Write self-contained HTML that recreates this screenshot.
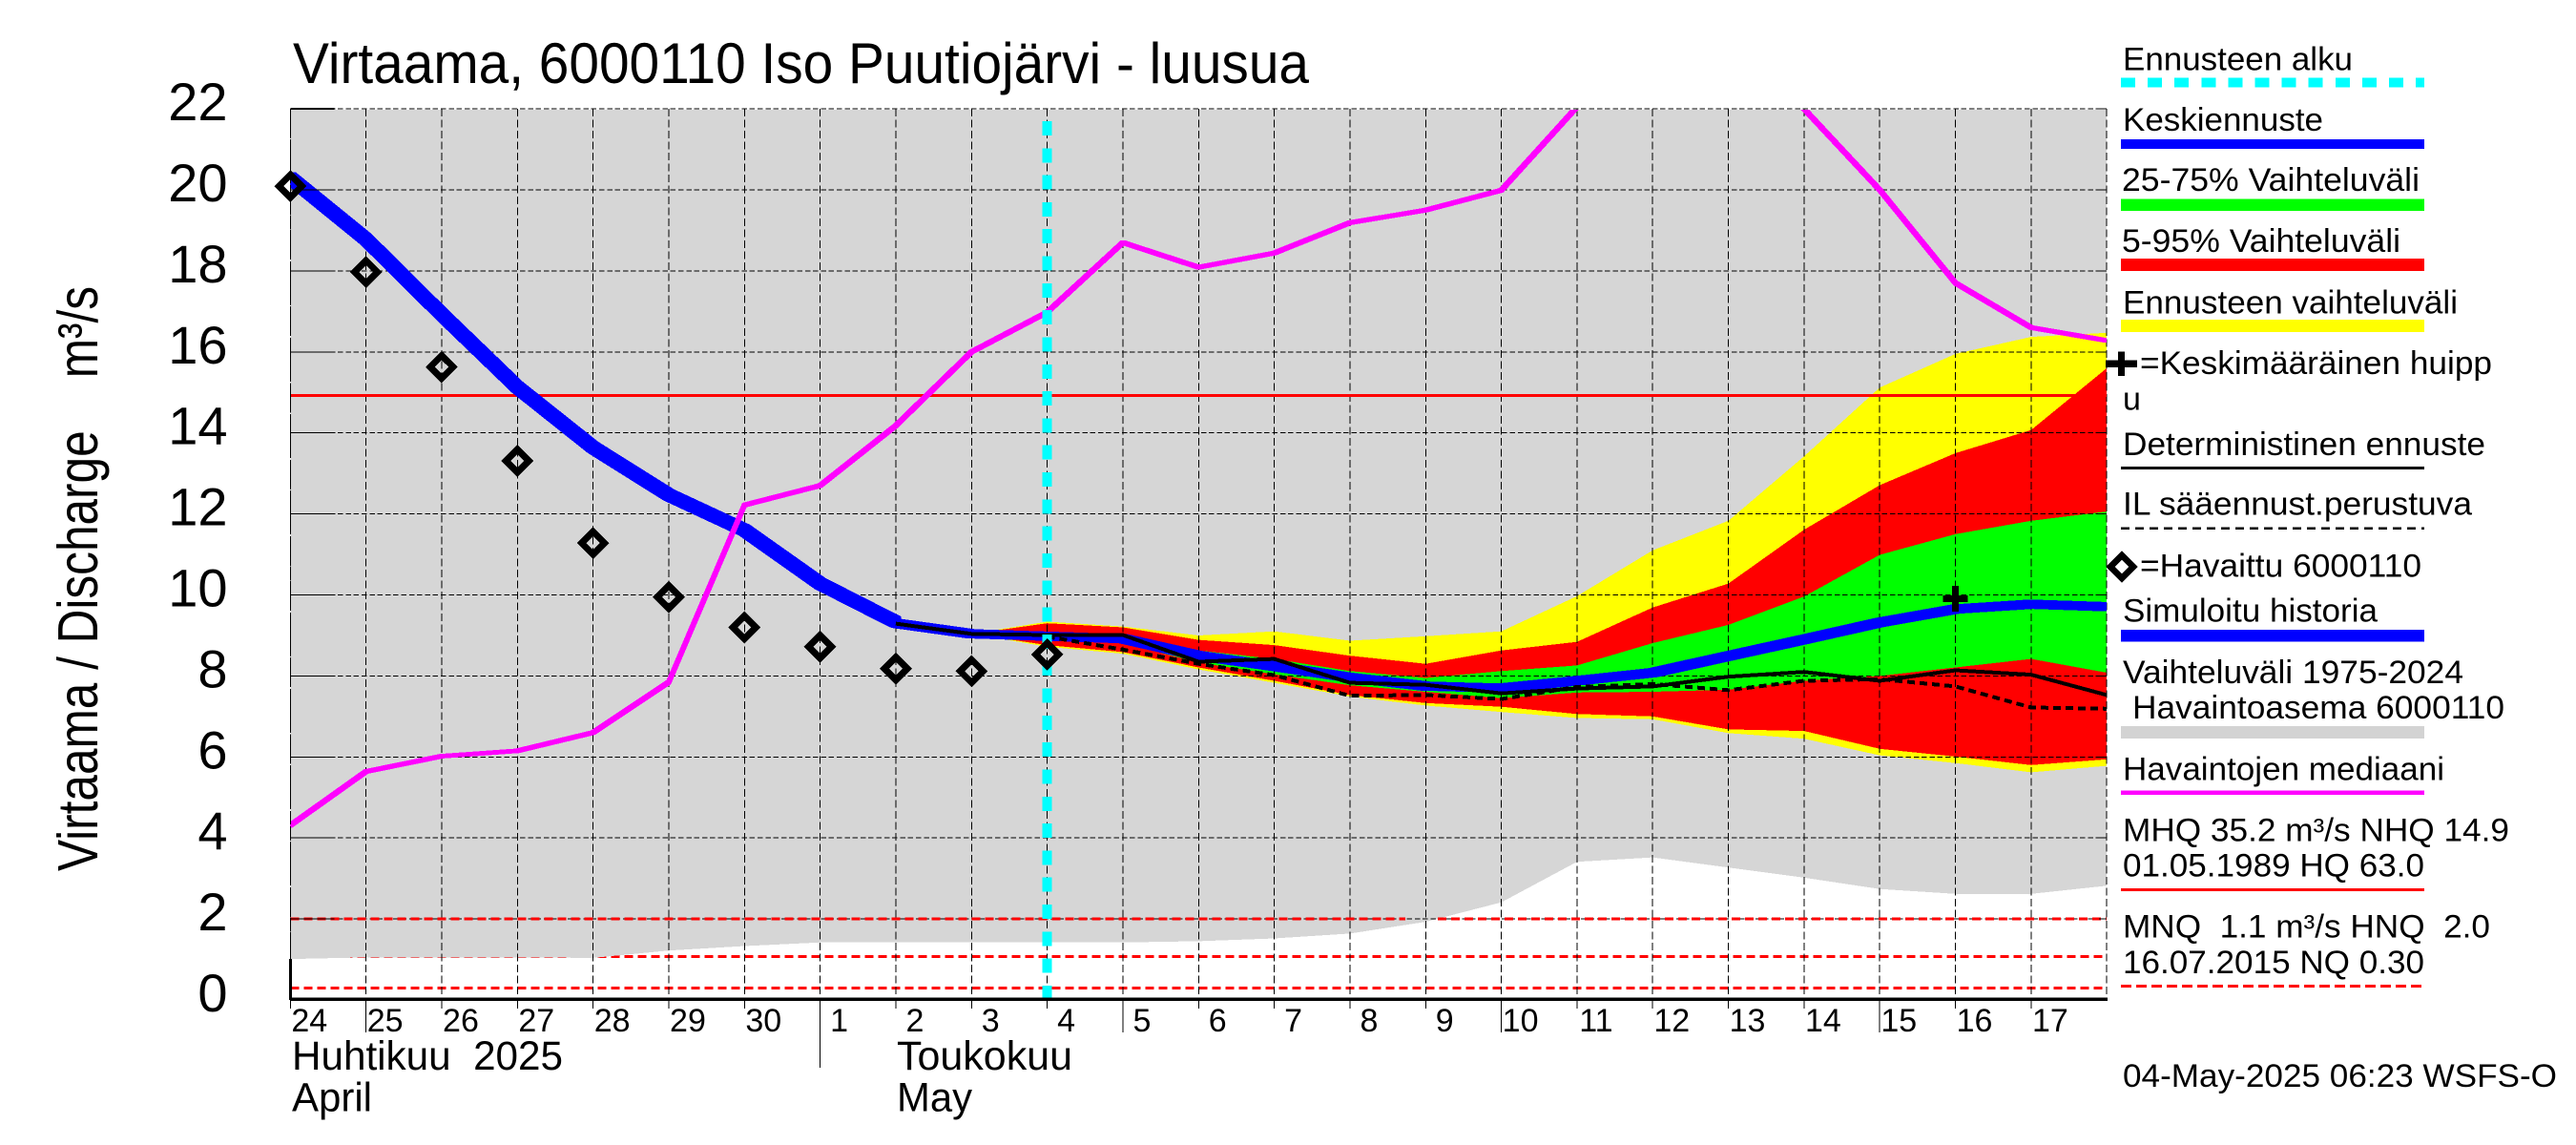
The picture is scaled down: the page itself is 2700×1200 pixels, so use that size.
<!DOCTYPE html>
<html lang="fi">
<head>
<meta charset="utf-8">
<title>Virtaama, 6000110 Iso Puutiojärvi - luusua</title>
<style>
html,body{margin:0;padding:0;background:#fff;}
svg{display:block;font-family:"Liberation Sans",Arial,sans-serif;fill:#000;}
text{white-space:pre;}
</style>
</head>
<body>
<svg id="chart" xmlns="http://www.w3.org/2000/svg" width="2700" height="1200" viewBox="0 0 2700 1200" shape-rendering="crispEdges">
<defs>
<clipPath id="plot-clip"><rect x="304" y="115" width="1904" height="933"/></clipPath>
</defs>
<rect x="0" y="0" width="2700" height="1200" fill="#ffffff"/>
<text x="307" y="87" font-size="60" textLength="1065" lengthAdjust="spacingAndGlyphs">Virtaama, 6000110 Iso Puutiojärvi - luusua</text>
<text transform="translate(102 913) rotate(-90)" x="0" y="0" font-size="59" textLength="613" lengthAdjust="spacingAndGlyphs">Virtaama / Discharge    m³/s</text>

<g id="levels-under" clip-path="url(#plot-clip)"></g>
<g id="history-band" clip-path="url(#plot-clip)"></g>
<g id="forecast-bands" clip-path="url(#plot-clip)"></g>
<g id="grid"></g>
<g id="levels-over" clip-path="url(#plot-clip)"></g>
<g id="series" clip-path="url(#plot-clip)"></g>
<g id="axes"></g>
<g id="markers"></g>

<text x="306" y="1121" font-size="43" textLength="284" lengthAdjust="spacingAndGlyphs">Huhtikuu  2025</text>
<text x="306" y="1164.5" font-size="43" textLength="84" lengthAdjust="spacingAndGlyphs">April</text>
<text x="940" y="1121" font-size="43" textLength="184" lengthAdjust="spacingAndGlyphs">Toukokuu</text>
<text x="940" y="1164.5" font-size="43" textLength="79" lengthAdjust="spacingAndGlyphs">May</text>

<g font-size="34">
<text x="2225" y="73.5" textLength="241" lengthAdjust="spacingAndGlyphs">Ennusteen alku</text>
<line x1="2223" x2="2541" y1="86.7" y2="86.7" stroke="#00ffff" stroke-width="10" stroke-dasharray="15 13.1"/>
<text x="2225" y="137" textLength="210" lengthAdjust="spacingAndGlyphs">Keskiennuste</text>
<rect x="2223" y="146" width="318" height="10" fill="#0000ff"/>
<text x="2224" y="200" textLength="312" lengthAdjust="spacingAndGlyphs">25-75% Vaihteluväli</text>
<rect x="2223" y="208.6" width="318" height="12.6" fill="#00ff00"/>
<text x="2224" y="264" textLength="292" lengthAdjust="spacingAndGlyphs">5-95% Vaihteluväli</text>
<rect x="2223" y="271" width="318" height="13" fill="#ff0000"/>
<text x="2225" y="328.4" textLength="351" lengthAdjust="spacingAndGlyphs">Ennusteen vaihteluväli</text>
<rect x="2223" y="335" width="318" height="13" fill="#ffff00"/>
<path d="M2219.8 368.3h7v9h13v7.5h-13v9h-7v-9h-13v-7.5h13z" fill="#000"/>
<text x="2243" y="392" textLength="369" lengthAdjust="spacingAndGlyphs">=Keskimääräinen huipp</text>
<text x="2225" y="429.4">u</text>
<text x="2225" y="477.2" textLength="380" lengthAdjust="spacingAndGlyphs">Deterministinen ennuste</text>
<rect x="2223" y="489" width="318" height="3" fill="#000"/>
<text x="2225" y="539.6" textLength="366" lengthAdjust="spacingAndGlyphs">IL sääennust.perustuva</text>
<line x1="2223" x2="2541" y1="553.8" y2="553.8" stroke="#000" stroke-width="2.5" stroke-dasharray="9 6"/>
<path d="M2224 582L2236 594L2224 606L2212 594Z" fill="none" stroke="#000" stroke-width="7" stroke-linejoin="miter"/>
<text x="2243" y="604.5" textLength="295" lengthAdjust="spacingAndGlyphs">=Havaittu 6000110</text>
<text x="2225" y="651.7" textLength="267" lengthAdjust="spacingAndGlyphs">Simuloitu historia</text>
<rect x="2223" y="660" width="318" height="12.7" fill="#0000ff"/>
<text x="2225" y="716" textLength="357" lengthAdjust="spacingAndGlyphs">Vaihteluväli 1975-2024</text>
<text x="2235" y="753" textLength="390" lengthAdjust="spacingAndGlyphs">Havaintoasema 6000110</text>
<rect x="2223" y="761" width="318" height="13" fill="#d3d3d3"/>
<text x="2225" y="817.4" textLength="337" lengthAdjust="spacingAndGlyphs">Havaintojen mediaani</text>
<rect x="2223" y="828.5" width="318" height="4.3" fill="#ff00ff"/>
<text x="2225" y="881.3" textLength="405" lengthAdjust="spacingAndGlyphs">MHQ 35.2 m³/s NHQ 14.9</text>
<text x="2225" y="918.4" textLength="316" lengthAdjust="spacingAndGlyphs">01.05.1989 HQ 63.0</text>
<rect x="2223" y="931" width="318" height="3" fill="#ff0000"/>
<text x="2225" y="982.7" textLength="385" lengthAdjust="spacingAndGlyphs">MNQ  1.1 m³/s HNQ  2.0</text>
<text x="2225" y="1019.8" textLength="316" lengthAdjust="spacingAndGlyphs">16.07.2015 NQ 0.30</text>
<line x1="2223" x2="2541" y1="1033.6" y2="1033.6" stroke="#ff0000" stroke-width="3" stroke-dasharray="11 5"/>
<text x="2225" y="1138.8" textLength="455" lengthAdjust="spacingAndGlyphs">04-May-2025 06:23 WSFS-O</text>
</g>
</svg>

<script>
// ---- chart data ----
const dayLabels = ['24','25','26','27','28','29','30','1','2','3','4','5','6','7','8','9','10','11','12','13','14','15','16','17'];
const yTickLabels = [0,2,4,6,8,10,12,14,16,18,20,22];
const historyLower = [1.01,1.05,1.05,1.05,1.04,1.22,1.33,1.42,1.42,1.42,1.42,1.42,1.45,1.52,1.64,1.93,2.41,3.41,3.52,3.27,3.02,2.74,2.62,2.62,2.82];
const medianFlow = [4.31,5.64,6.02,6.15,6.6,7.85,12.22,12.7,14.18,16.0,16.98,18.7,18.09,18.44,19.19,19.5,19.99,22.05,24.5,24.0,22.0,20.0,17.7,16.6,16.28];
const simulatedHistory = [20.3,18.78,16.93,15.13,13.64,12.47,11.6,10.28,9.33];
const observedFlow = [20.09,17.97,15.63,13.31,11.28,9.95,9.2,8.72,8.18,8.12,8.53];
const yellowTop = [9.04,9.34,9.22,9.0,9.1,8.87,8.98,9.1,9.97,11.1,11.83,13.42,15.12,15.95,16.37,16.47];
const yellowBottom = [9.04,8.72,8.55,8.16,7.83,7.49,7.27,7.11,6.96,6.93,6.59,6.45,6.04,5.85,5.62,5.78];
const redTop = [9.04,9.30,9.2,8.89,8.76,8.5,8.3,8.63,8.84,9.69,10.28,11.61,12.71,13.5,14.07,15.6];
const redBottom = [9.04,8.76,8.59,8.21,7.88,7.53,7.33,7.24,7.06,7.0,6.68,6.64,6.2,6.01,5.8,5.94];
const greenTop = [9.04,9.06,9.02,8.63,8.42,8.12,7.95,8.12,8.26,8.81,9.26,9.96,10.99,11.5,11.83,12.06];
const greenBottom = [9.04,8.95,8.81,8.33,8.04,7.77,7.61,7.45,7.59,7.61,7.66,7.88,8.0,8.21,8.42,8.08];
const meanForecast = [9.3,9.04,8.98,8.92,8.5,8.24,7.96,7.75,7.7,7.88,8.08,8.49,8.9,9.32,9.65,9.77,9.71];
const deterministicForecast = [9.29,9.04,9.01,9.01,8.35,8.42,7.83,7.78,7.57,7.69,7.74,7.98,8.1,7.88,8.14,8.03,7.53];
const weatherForecast = [8.97,8.65,8.3,8.02,7.51,7.53,7.43,7.73,7.8,7.65,7.88,7.92,7.74,7.22,7.19];
const meanPeakDay = [22];
const meanPeakValue = [9.91];
const forecastStartDay = [10];
const nhqLevel = [14.92];
const hnqLevel = [2.0];
const mnqLevel = [1.07];
const nqLevel = [0.29];
const hnqGapDays = [14.73,15.16];
const dayCount = [24];
const yMax = [22];

// ---- axis functions ----
function xAt(day){return 304.3 + 79.33*day;}
function yAt(v){return 1048 - 42.45*v;}

const NS = 'http://www.w3.org/2000/svg';
function add(parent, tag, attrs){
  const node = document.createElementNS(NS, tag);
  for (const k in attrs) node.setAttribute(k, attrs[k]);
  parent.appendChild(node);
  return node;
}
function $(id){return document.getElementById(id);}
function range(start, n){const a=[];for(let i=0;i<n;i++)a.push(start+i);return a;}

function hexPen(days, values, w){
  const h = w/2; let d = '';
  for (let i=0;i<values.length-1;i++){
    const x1=xAt(days[i]), y1=yAt(values[i]), x2=xAt(days[i+1]), y2=yAt(values[i+1]);
    const pts = y2>=y1
      ? [[x1-h,y1-h],[x1+h,y1-h],[x2+h,y2-h],[x2+h,y2+h],[x2-h,y2+h],[x1-h,y1+h]]
      : [[x1-h,y1+h],[x1-h,y1-h],[x2-h,y2-h],[x2+h,y2-h],[x2+h,y2+h],[x1+h,y1+h]];
    d += 'M' + pts.map(p=>p[0].toFixed(1)+' '+p[1].toFixed(1)).join('L') + 'Z';
  }
  return d;
}
function linePts(days, values){
  return days.map((t,i)=>xAt(t).toFixed(1)+','+yAt(values[i]).toFixed(1)).join(' ');
}
function bandPts(days, top, bottom){
  const a = days.map((t,i)=>xAt(t).toFixed(1)+','+yAt(top[i]).toFixed(1));
  const b = days.map((t,i)=>xAt(t).toFixed(1)+','+yAt(bottom[i]).toFixed(1)).reverse();
  return a.concat(b).join(' ');
}

let el;
const xLeft = xAt(0), xRight = xAt(dayCount[0]);

// low reference levels lie beneath the historical band
el = add($('levels-under'),'line',{x1:xLeft,x2:xRight,y1:yAt(mnqLevel[0]),y2:yAt(mnqLevel[0]),stroke:'#ff0000','stroke-width':3,'stroke-dasharray':'9 5'});


el = add($('levels-under'),'line',{x1:xLeft,x2:xRight,y1:yAt(nqLevel[0]),y2:yAt(nqLevel[0]),stroke:'#ff0000','stroke-width':3,'stroke-dasharray':'9 5'});



// historical range band
const allDays = range(0, historyLower.length);
const topEdge = allDays.map(()=>yMax[0]);
el = add($('history-band'),'polygon',{points:bandPts(allDays, topEdge, historyLower),fill:'#d6d6d6'});



// forecast bands
const bandDays = range(9, yellowTop.length);
el = add($('forecast-bands'),'polygon',{points:bandPts(bandDays,yellowTop,yellowBottom),fill:'#ffff00'});


el = add($('forecast-bands'),'polygon',{points:bandPts(bandDays,redTop,redBottom),fill:'#ff0000'});


el = add($('forecast-bands'),'polygon',{points:bandPts(bandDays,greenTop,greenBottom),fill:'#00ff00'});



// grid
yTickLabels.forEach(v=>{
  if (v===0) return;
  const g = add($('grid'),'line',{x1:xLeft,x2:xRight,y1:yAt(v),y2:yAt(v),stroke:'#000','stroke-width':1,'stroke-dasharray':'5.5 2.8'});
  
  
});
dayLabels.concat(['end']).forEach((lab,i)=>{
  const g = add($('grid'),'line',{x1:xAt(i),x2:xAt(i),y1:yAt(yMax[0]),y2:yAt(0),stroke:'#000','stroke-width':1,'stroke-dasharray':'8 3.5'});
  
  
});

// upper reference levels
el = add($('levels-over'),'line',{x1:xLeft,x2:xRight,y1:yAt(nhqLevel[0]),y2:yAt(nhqLevel[0]),stroke:'#ff0000','stroke-width':3});


el = add($('levels-over'),'line',{x1:xLeft,x2:xAt(hnqGapDays[0]),y1:yAt(hnqLevel[0]),y2:yAt(hnqLevel[0]),stroke:'#ff0000','stroke-width':3,'stroke-dasharray':'9 5'});


el = add($('levels-over'),'line',{x1:xAt(hnqGapDays[1]),x2:xRight,y1:yAt(hnqLevel[0]),y2:yAt(hnqLevel[0]),stroke:'#ff0000','stroke-width':3,'stroke-dasharray':'9 5'});



// series
el = add($('series'),'path',{d:hexPen(range(0,simulatedHistory.length),simulatedHistory,11.5),fill:'#0000ff'});


el = add($('series'),'path',{d:hexPen(range(8,meanForecast.length),meanForecast,9.5),fill:'#0000ff'});


el = add($('series'),'polyline',{points:linePts(range(8,deterministicForecast.length),deterministicForecast),fill:'none',stroke:'#000','stroke-width':4,'stroke-linejoin':'round'});


el = add($('series'),'polyline',{points:linePts(range(10,weatherForecast.length),weatherForecast),fill:'none',stroke:'#000','stroke-width':4,'stroke-dasharray':'8 5'});


el = add($('series'),'path',{d:hexPen(range(0,medianFlow.length),medianFlow,4.6),fill:'#ff00ff'});


el = add($('series'),'line',{x1:xAt(forecastStartDay[0]),x2:xAt(forecastStartDay[0]),y1:127,y2:1048,stroke:'#00ffff','stroke-width':10,'stroke-dasharray':'15 13.31'});



// axes
el = add($('axes'),'line',{x1:xLeft,x2:xRight+1,y1:1047.3,y2:1047.3,stroke:'#000','stroke-width':3.5});


el = add($('axes'),'line',{x1:xLeft,x2:xLeft,y1:yAt(historyLower[0]),y2:1048,stroke:'#000','stroke-width':3});


el = add($('axes'),'line',{x1:xLeft,x2:xLeft,y1:yAt(yMax[0]),y2:yAt(historyLower[0]),stroke:'#000','stroke-width':1,'stroke-dasharray':'14 2'});



yTickLabels.forEach(v=>{
  const yy = yAt(v);
  const t = add($('axes'),'line',{x1:xLeft,x2:xLeft+46,y1:yy,y2:yy,stroke:'#000','stroke-width':v===yMax[0]?2:1});
  
  
  const r = add($('axes'),'line',{x1:xRight-8,x2:xRight,y1:yy,y2:yy,stroke:'#000','stroke-width':1});
  
  
  const s = add($('axes'),'text',{x:238.5,y:yy+12,'font-size':56,'text-anchor':'end'});
  s.textContent = String(v);
  
  
});

dayLabels.forEach((lab,i)=>{
  let bottom = 1057;
  if (lab==='1') bottom = 1119;
  else if (['25','5','10','15'].includes(lab)) bottom = 1082;
  const t = add($('axes'),'line',{x1:xAt(i),x2:xAt(i),y1:1048,y2:bottom,stroke:'#000','stroke-width':1});
  
  
  const s = add($('axes'),'text',{x:xAt(i)+20,y:1081,'font-size':34,'text-anchor':'middle'});
  s.textContent = lab;
  
  
});

// observed diamonds
observedFlow.forEach((v,i)=>{
  const cx=xAt(i), cy=yAt(v), r=12;
  const m = add($('markers'),'path',{d:'M'+cx+' '+(cy-r)+'L'+(cx+r)+' '+cy+'L'+cx+' '+(cy+r)+'L'+(cx-r)+' '+cy+'Z',fill:'none',stroke:'#000','stroke-width':7,'stroke-linejoin':'miter'});
  
  
});

// mean peak cross
meanPeakDay.forEach((d,i)=>{
  const cx=xAt(d), cy=yAt(meanPeakValue[i]);
  const m = add($('markers'),'path',{d:'M'+(cx-3.5)+' '+(cy-13.5)+'h7v10h9.5v7h-9.5v10h-7v-10h-9.5v-7h9.5z',fill:'#000'});
  
  
});
</script>
</body>
</html>
